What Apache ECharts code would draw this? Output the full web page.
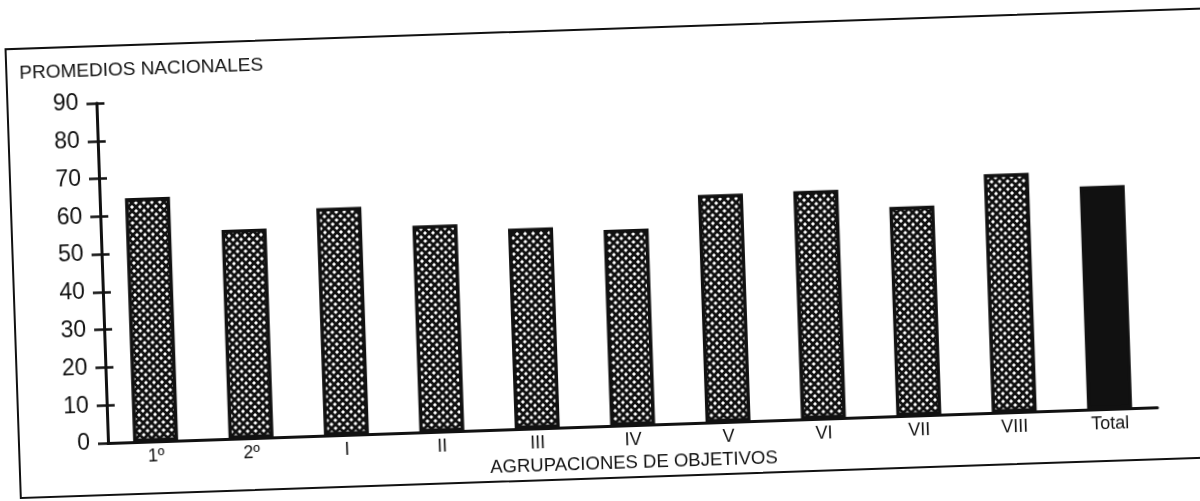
<!DOCTYPE html>
<html>
<head>
<meta charset="utf-8">
<script src="https://cdn.jsdelivr.net/npm/echarts@6/dist/echarts.min.js"></script>
<style>
  html, body { margin: 0; padding: 0; background: #fff; overflow: hidden; }
  /* la hoja escaneada está ligeramente girada */
  #sheet {
    position: absolute; left: 0; top: 0; width: 1200px; height: 501px;
    transform: rotate(-1.95deg); transform-origin: 108px 443px;
  }
  #frame {
    position: absolute; left: 18px; top: 45px; width: 1300px; height: 451px;
    border: 2.5px solid #111; box-sizing: border-box;
  }
  #chart { position: absolute; left: 0; top: 0; width: 1200px; height: 501px; }
</style>
</head>
<body>
<div id="sheet">
  <div id="frame"></div>
  <div id="chart"></div>
</div>
<script>
// ==========================================
// Datos
// ==========================================
const categories = ['1º', '2º', 'I', 'II', 'III', 'IV', 'V', 'VI', 'VII', 'VIII', 'Total'];
const promedios = [64.6, 55.3, 60.2, 54.7, 53.1, 51.9, 60.3, 60.4, 55.4, 63.2, 59.1];
const yTicks = [0, 10, 20, 30, 40, 50, 60, 70, 80, 90];

const FONT = '"Liberation Sans", Arial, sans-serif';

// trama cuadriculada (rayado en diagonal)
function makeHatch() {
    const s = 8;
    const c = document.createElement('canvas');
    c.width = s;
    c.height = s;
    const g = c.getContext('2d');
    g.fillStyle = '#fff';
    g.fillRect(0, 0, s, s);
    g.strokeStyle = '#111';
    g.lineWidth = 2.8;
    g.beginPath();
    g.moveTo(-1, -1); g.lineTo(s + 1, s + 1);
    g.moveTo(s + 1, -1); g.lineTo(-1, s + 1);
    g.stroke();
    return c;
}
const hatch = { image: makeHatch(), repeat: 'repeat' };

const barData = promedios.map((v, i) => ({
    value: v,
    itemStyle: { color: categories[i] === 'Total' ? '#111' : hatch }
}));

const chart = echarts.init(document.getElementById('chart'));

const yBase = {
    type: 'value',
    min: yTicks[0],
    max: yTicks[yTicks.length - 1],
    interval: 10,
    position: 'left',
    splitLine: { show: false }
};

chart.setOption({
    animation: false,
    title: {
        text: 'PROMEDIOS NACIONALES',
        left: 27,
        top: 56,
        textStyle: { fontFamily: FONT, fontSize: 19, fontWeight: 'normal', color: '#111' }
    },
    grid: { left: 108, top: 103, width: 1050, height: 340 },
    xAxis: {
        type: 'category',
        data: categories,
        name: 'AGRUPACIONES DE OBJETIVOS',
        nameLocation: 'middle',
        nameGap: 27,
        nameTextStyle: { fontFamily: FONT, fontSize: 18.5, color: '#111' },
        axisLine: { lineStyle: { color: '#111', width: 3 } },
        axisTick: { show: false },
        axisLabel: { fontFamily: FONT, fontSize: 18, color: '#111', margin: 6 }
    },
    yAxis: [
        Object.assign({}, yBase, {
            axisLine: { show: true, lineStyle: { color: '#111', width: 3 } },
            axisTick: { show: true, length: 10, lineStyle: { color: '#111', width: 2.5 } },
            axisLabel: { fontFamily: FONT, fontSize: 23, color: '#111', margin: 18 }
        }),
        // marcas que cruzan el eje hacia adentro
        Object.assign({}, yBase, {
            axisLine: { show: false },
            axisTick: { show: true, inside: true, length: 8, lineStyle: { color: '#111', width: 2.5 } },
            axisLabel: { show: false }
        })
    ],
    series: [{
        type: 'bar',
        yAxisIndex: 0,
        barWidth: 45,
        data: barData,
        itemStyle: { borderColor: '#111', borderWidth: 3.5 }
    }]
});
</script>
</body>
</html>
